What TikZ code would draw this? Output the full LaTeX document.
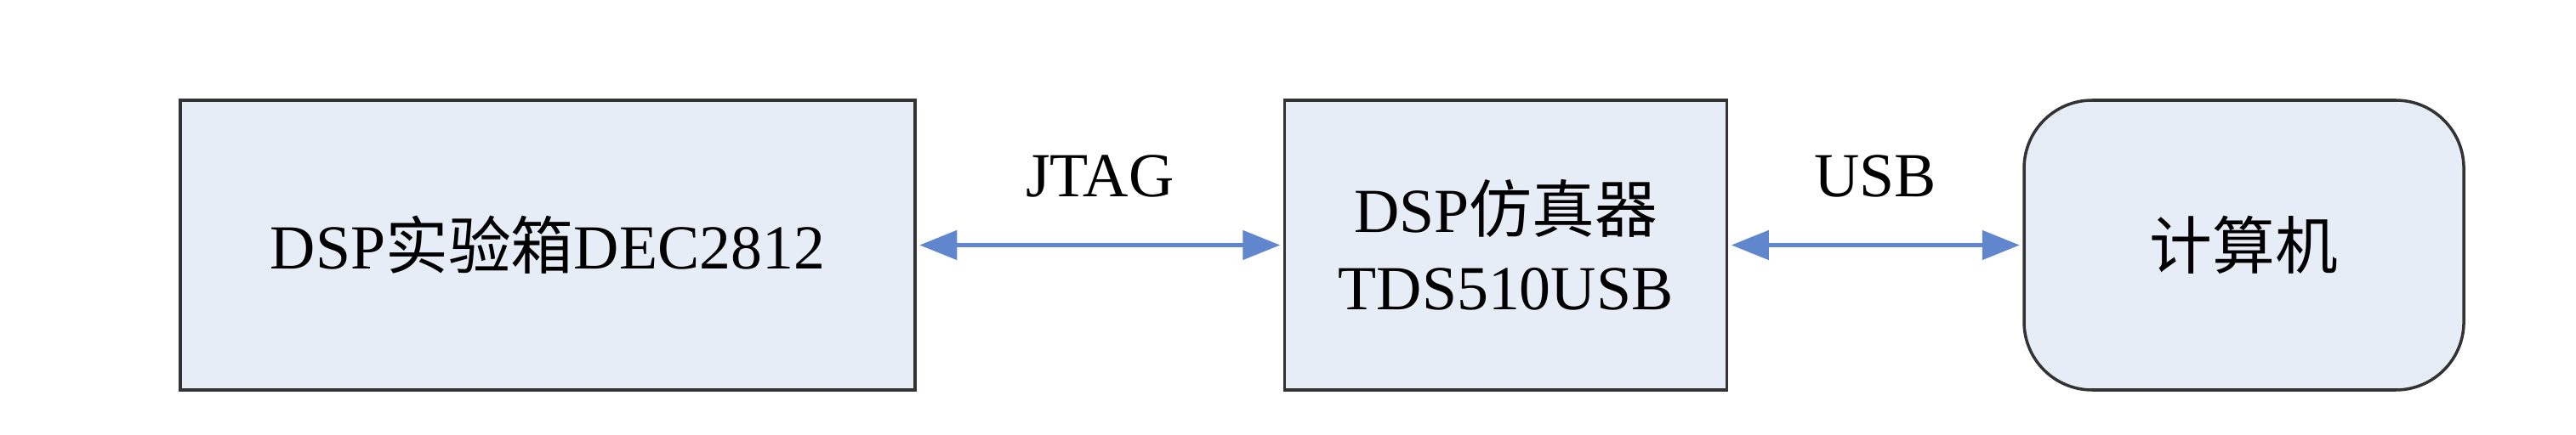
\documentclass[tikz,border=0pt]{standalone}
\usepackage{fontspec}
\setmainfont{Liberation Serif}
\newfontfamily\cjk{Noto Sans CJK SC}
\usepackage{xcolor}
\usetikzlibrary{
  arrows.meta,
  positioning
}
\definecolor{boxfill}{RGB}{231,237,247}
\definecolor{linkblue}{RGB}{68,114,196}
\tikzset{
  line join=round,
  box/.style={draw=black!80, line width=1pt, fill=boxfill, align=center,
    minimum height=3.41cm, inner sep=0pt,
    font=\fontsize{21pt}{26pt}\selectfont},
  roundbox/.style={box, rounded corners=0.8cm},
  link/.style={{Triangle[length=4.4mm,width=3.4mm]}-{Triangle[length=4.4mm,width=3.4mm]},
    draw=linkblue!85, fill=linkblue, line width=1.4pt, shorten <=1pt, shorten >=1pt},
  linklabel/.style={font=\fontsize{21pt}{26pt}\selectfont}
}

\begin{document}
\begin{tikzpicture}
  \useasboundingbox (0,0) rectangle (30.29,5.11);

  \node[box, minimum width=8.64cm] (board) at (6.44,2.225) {DSP{\cjk 实验箱}DEC2812};
  \node[box, minimum width=5.20cm, right=4.31cm of board] (emu) {DSP{\cjk 仿真器}\\TDS510USB};
  \node[roundbox, minimum width=5.17cm, right=3.46cm of emu] (pc) {{\cjk 计算机}};

  \draw[link] (board.east) -- node[linklabel, above=0.42cm] {JTAG} (emu.west);
  \draw[link] (emu.east) -- node[linklabel, above=0.42cm] {USB} (pc.west);
\end{tikzpicture}
\end{document}
